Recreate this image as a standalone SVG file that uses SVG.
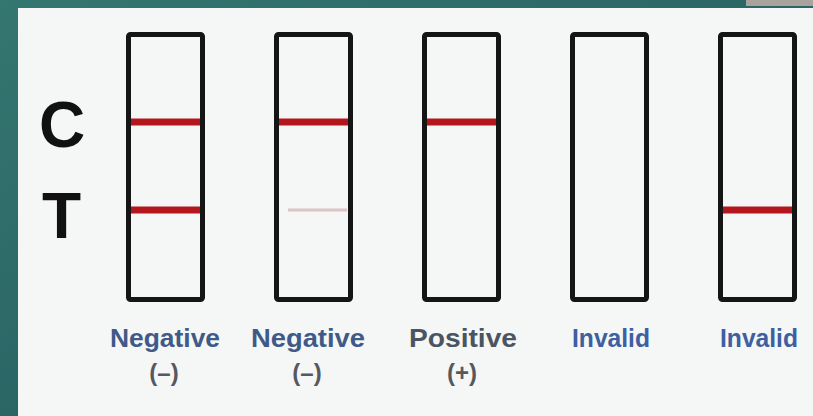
<svg xmlns="http://www.w3.org/2000/svg" width="813" height="416" viewBox="0 0 813 416">
  <defs>
    <linearGradient id="bg" x1="0" y1="0" x2="1" y2="1">
      <stop offset="0" stop-color="#347670"/>
      <stop offset="1" stop-color="#22565a"/>
    </linearGradient>
    <style>
      .strip { fill: none; stroke: #151515; stroke-width: 5; }
      .band { stroke: #b3161c; stroke-width: 7; }
      .faint { stroke: #dcc4c6; stroke-width: 3; }
      .big { font-family: "Liberation Sans", Arial, sans-serif; font-weight: bold; font-size: 64px; fill: #111; }
      .lbl { font-family: "Liberation Sans", Arial, sans-serif; font-weight: bold; font-size: 25px; text-anchor: middle; }
      .neg { fill: #3f5a88; }
      .pos { fill: #4b5562; }
      .inv { fill: #3e5fa0; }
      .sign { font-family: "Liberation Sans", Arial, sans-serif; font-weight: bold; font-size: 24px; text-anchor: middle; fill: #55595f; }
    </style>
  </defs>
  <rect x="0" y="0" width="813" height="416" fill="url(#bg)"/>
  <rect x="746" y="0" width="67" height="6" fill="#a9a29d"/>
  <rect x="18" y="8" width="795" height="408" fill="#f5f6f6"/>

  <text class="big" x="39" y="147">C</text>
  <text class="big" x="42" y="238">T</text>

  <g id="strip1">
    <line class="band" x1="128" y1="122" x2="203" y2="122"/>
    <line class="band" x1="128" y1="210" x2="203" y2="210"/>
    <rect class="strip" x="128.5" y="34.5" width="74" height="265" rx="2"/>
    <text class="lbl neg" x="165" y="347" textLength="110" lengthAdjust="spacingAndGlyphs">Negative</text>
    <text class="sign" x="164" y="381">(–)</text>
  </g>
  <g id="strip2">
    <line class="band" x1="276" y1="122" x2="351" y2="122"/>
    <line class="faint" x1="288" y1="210" x2="347" y2="210"/>
    <rect class="strip" x="276.5" y="34.5" width="74" height="265" rx="2"/>
    <text class="lbl neg" x="308" y="347" textLength="114" lengthAdjust="spacingAndGlyphs">Negative</text>
    <text class="sign" x="307" y="381">(–)</text>
  </g>
  <g id="strip3">
    <line class="band" x1="424" y1="122" x2="499" y2="122"/>
    <rect class="strip" x="424.5" y="34.5" width="74" height="265" rx="2"/>
    <text class="lbl pos" x="463" y="347" textLength="108" lengthAdjust="spacingAndGlyphs">Positive</text>
    <text class="sign" x="462" y="381">(+)</text>
  </g>
  <g id="strip4">
    <rect class="strip" x="572.5" y="34.5" width="74" height="265" rx="2"/>
    <text class="lbl inv" x="611" y="347" textLength="78" lengthAdjust="spacingAndGlyphs">Invalid</text>
  </g>
  <g id="strip5">
    <line class="band" x1="720" y1="210" x2="795" y2="210"/>
    <rect class="strip" x="720.5" y="34.5" width="74" height="265" rx="2"/>
    <text class="lbl inv" x="759" y="347" textLength="78" lengthAdjust="spacingAndGlyphs">Invalid</text>
  </g>
  <g id="connectors"/>
</svg>
